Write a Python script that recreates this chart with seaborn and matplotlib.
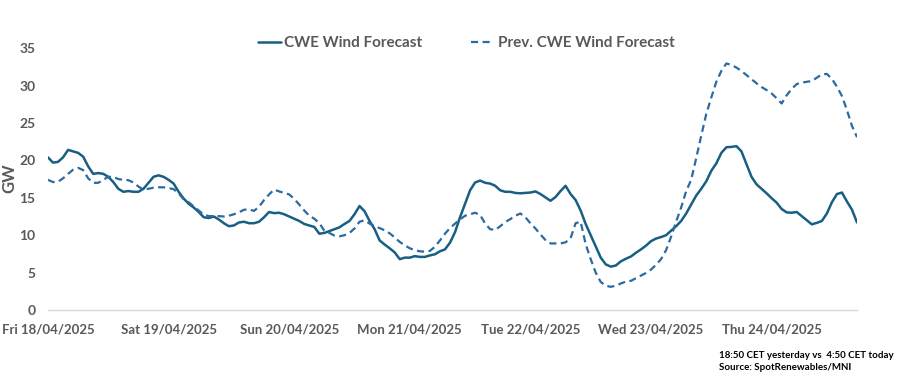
import numpy as np
import pandas as pd
import matplotlib
matplotlib.use("Agg")
import matplotlib.pyplot as plt
import matplotlib.dates as mdates
import seaborn as sns

# ---- data (hourly, GW) ----
start = "2025-04-18 00:00"
cwe_forecast = [
    20.4, 19.7, 19.8, 20.4, 21.4, 21.2, 21.0, 20.5, 19.2, 18.2,
    18.3, 18.2, 17.8, 17.1, 16.2, 15.8, 15.9, 15.8, 15.8, 16.2,
    17.0, 17.8, 18.0, 17.8, 17.4, 16.9, 15.8, 14.9, 14.2, 13.7,
    13.1, 12.4, 12.3, 12.5, 12.1, 11.6, 11.2, 11.3, 11.7, 11.8,
    11.6, 11.6, 11.8, 12.4, 13.1, 12.95, 13.0, 12.8, 12.5, 12.2,
    11.9, 11.5, 11.3, 11.1, 10.2, 10.3, 10.55, 10.8, 11.05, 11.5,
    11.9, 12.8, 13.9, 13.2, 11.9, 10.8, 9.3, 8.75, 8.25, 7.7,
    6.8, 7.0, 7.0, 7.2, 7.1, 7.1, 7.3, 7.45, 7.85, 8.1,
    9.0, 10.4, 12.4, 14.2, 16.0, 17.05, 17.3, 17.0, 16.9, 16.6,
    16.0, 15.8, 15.8, 15.65, 15.6, 15.65, 15.7, 15.85, 15.5, 15.05,
    14.6, 15.1, 15.9, 16.6, 15.5, 14.7, 13.3, 11.5, 10.0, 8.5,
    7.0, 6.1, 5.8, 5.95, 6.5, 6.85, 7.15, 7.65, 8.1, 8.6,
    9.2, 9.55, 9.75, 10.0, 10.6, 11.2, 11.9, 12.9, 14.1, 15.3,
    16.2, 17.2, 18.6, 19.6, 21.0, 21.75, 21.8, 21.9, 21.2, 19.5,
    17.8, 16.8, 16.2, 15.6, 14.95, 14.35, 13.5, 13.05, 13.0, 13.1,
    12.55, 12.0, 11.45, 11.65, 11.9, 12.9, 14.4, 15.5, 15.7, 14.5,
    13.4, 11.7,
]
prev_cwe_forecast = [
    17.4, 17.1, 17.15, 17.6, 18.2, 18.75, 19.0, 18.7, 17.6, 17.0,
    17.0, 17.4, 17.8, 17.8, 17.5, 17.4, 17.35, 17.05, 16.5, 16.1,
    16.2, 16.35, 16.4, 16.4, 16.3, 16.15, 15.6, 14.8, 14.4, 13.85,
    13.3, 12.75, 12.55, 12.55, 12.55, 12.5, 12.6, 12.8, 13.05, 13.4,
    13.45, 13.25, 13.8, 14.7, 15.45, 16.1, 15.85, 15.65, 15.45, 14.85,
    14.1, 13.3, 12.6, 12.2, 11.6, 10.6, 10.3, 9.95, 9.85, 10.0,
    10.3, 10.9, 11.8, 12.0, 11.55, 11.2, 10.95, 10.65, 10.25, 9.7,
    9.1, 8.65, 8.25, 8.0, 7.85, 7.8, 7.9, 8.45, 9.3, 10.2,
    10.95, 11.55, 12.1, 12.6, 12.8, 13.0, 12.7, 11.55, 10.8, 10.7,
    11.2, 11.75, 12.15, 12.6, 12.9, 12.4, 11.6, 10.9, 10.1, 9.35,
    8.9, 8.9, 8.9, 9.05, 9.6, 11.6, 11.8, 8.8, 6.8, 5.0,
    3.75, 3.25, 3.1, 3.25, 3.55, 3.8, 3.9, 4.25, 4.6, 4.95,
    5.4, 6.05, 6.8, 8.0, 9.8, 11.8, 13.7, 15.9, 17.4, 20.3,
    23.3, 26.2, 28.4, 30.5, 31.95, 32.95, 32.75, 32.4, 31.95, 31.4,
    30.85, 30.3, 29.8, 29.4, 28.95, 28.3, 27.6, 28.7, 29.55, 30.2,
    30.4, 30.5, 30.6, 31.05, 31.5, 31.55, 30.9, 29.85, 28.6, 26.7,
    24.6, 23.1,
]
series_names = ["CWE Wind Forecast", "Prev. CWE Wind Forecast"]
y_ticks = [0, 5, 10, 15, 20, 25, 30, 35]
y_label = "GW"
note_lines = ["18:50 CET yesterday vs  4:50 CET today", "Source: SpotRenewables/MNI"]

times = pd.date_range(start, periods=len(cwe_forecast), freq="h")
df = pd.DataFrame({"time": times, "cur": cwe_forecast, "prev": prev_cwe_forecast})

sns.set_theme(style="white")
plt.rcParams["font.family"] = ["Lato", "DejaVu Sans"]

grey = "#595959"
fig = plt.figure(figsize=(9.07, 3.79), dpi=100)
ax = fig.add_axes([0.0529, 0.182, 0.892, 0.691])

sns.lineplot(data=df, x="time", y="cur", ax=ax, color="#195E83", lw=1.8,
             label=series_names[0])
sns.lineplot(data=df, x="time", y="prev", ax=ax, color="#2C6AA0", lw=1.6,
             label=series_names[1], dashes=False, linestyle=(0, (3.2, 2.0)))

ax.set_ylim(0, 35)
ax.set_yticks(y_ticks)
ax.set_xlim(times[0], times[-1])
ax.xaxis.set_major_locator(mdates.DayLocator())
ax.xaxis.set_major_formatter(mdates.DateFormatter("%a %d/%m/%Y"))
ax.tick_params(axis="both", length=0, labelcolor=grey)
ax.tick_params(axis="x", pad=10, labelsize=9.5)
ax.tick_params(axis="y", pad=9, labelsize=10)
for lab in ax.get_xticklabels() + ax.get_yticklabels():
    lab.set_fontweight("bold")

for s in ["top", "right", "left"]:
    ax.spines[s].set_visible(False)
ax.spines["bottom"].set_color("#D9D9D9")
ax.spines["bottom"].set_linewidth(1.0)
ax.grid(False)

ax.set_xlabel("")
ax.set_ylabel(y_label, fontsize=12, fontweight="bold", color=grey)
ax.yaxis.set_label_coords(-0.038, 0.504)

leg = ax.legend(loc="center", bbox_to_anchor=(0.517, 1.02), ncol=2, frameon=False,
                handlelength=1.5, handletextpad=0.25, columnspacing=3.2,
                prop={"weight": "bold", "size": 11})
for t in leg.get_texts():
    t.set_color(grey)

fig.text(0.793, 1 - 355 / 379, note_lines[0], fontsize=7, fontweight="bold",
         color="black", va="center", ha="left")
fig.text(0.793, 1 - 367 / 379, note_lines[1], fontsize=7, fontweight="bold",
         color="black", va="center", ha="left")

fig.savefig("out.png", dpi=100)
